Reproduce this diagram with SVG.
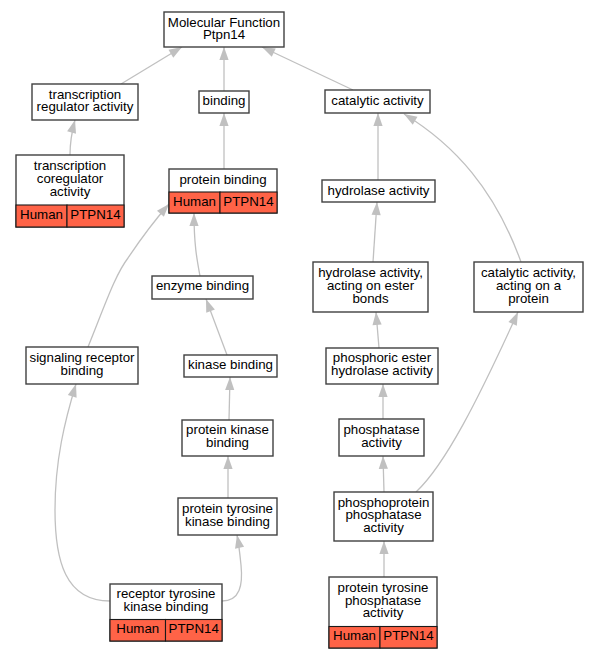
<svg xmlns="http://www.w3.org/2000/svg" width="597" height="659" viewBox="0 0 597 659">
<style>
.n{fill:#ffffff;stroke:#404040;stroke-width:1.4}
.c{fill:#ff6347;stroke:#1a1a1a;stroke-width:1.1}
text{font-family:"Liberation Sans",Arial,sans-serif;font-size:13.3px;fill:#000;text-anchor:middle}
.e{fill:none;stroke:#c0c0c0;stroke-width:1.3;marker-end:url(#ah)}
</style>
<defs>
<marker id="ah" markerUnits="userSpaceOnUse" markerWidth="14" markerHeight="10" refX="13" refY="4.6" orient="auto" overflow="visible">
<path d="M0,0 L13,4.6 L0,9.2 z" fill="#c0c0c0"/>
</marker>
</defs>
<rect width="597" height="659" fill="#ffffff"/>
<g id="edges">
<path class="e" d="M121,84 L182,47"/>
<path class="e" d="M224,91 L224,47"/>
<path class="e" d="M353,90 L262,47"/>
<path class="e" d="M70,155 C70,140 72,131 75,120"/>
<path class="e" d="M224,169 L224,113"/>
<path class="e" d="M378,180 L378,113"/>
<path class="e" d="M521,262 C495,190 455,145 404,114"/>
<path class="e" d="M373,262 L377,202"/>
<path class="e" d="M200,276 C197,260 194,245 194,213"/>
<path class="e" d="M88,347 C105,305 115,275 128,258 C140,240 155,220 169,204"/>
<path class="e" d="M227,355 L206,299"/>
<path class="e" d="M229,420 L230,377"/>
<path class="e" d="M228,498 L228,456"/>
<path class="e" d="M110,601 C65,601 55,560 55,510 C55,460 65,420 76,384"/>
<path class="e" d="M222,601 C240,601 243,585 241,565 C240,555 239,545 237,535"/>
<path class="e" d="M379,348 L376,312"/>
<path class="e" d="M383,419 L383,384"/>
<path class="e" d="M384,492 L383,456"/>
<path class="e" d="M416,492 C445,465 478,400 518,312"/>
<path class="e" d="M384,577 L384,541"/>
</g>
<g id="mf"><rect class="n" x="164" y="12" width="120" height="35"/><text x="224" y="26.5">Molecular Function</text><text x="224" y="39">Ptpn14</text></g>
<g id="tra"><rect class="n" x="32" y="84" width="106" height="36"/><text x="85" y="98.5">transcription</text><text x="85" y="111">regulator activity</text></g>
<g id="binding"><rect class="n" x="199" y="91" width="50" height="22"/><text x="224" y="105">binding</text></g>
<g id="catalytic"><rect class="n" x="325" y="90" width="105" height="23"/><text x="377.5" y="105">catalytic activity</text></g>
<g id="tca"><rect class="n" x="16" y="155" width="108" height="72"/><rect class="c" x="16" y="205" width="51" height="22"/><rect class="c" x="67" y="205" width="57" height="22"/><text x="70" y="170">transcription</text><text x="70" y="183">coregulator</text><text x="70" y="196">activity</text><text x="41.5" y="219">Human</text><text x="95.5" y="219">PTPN14</text></g>
<g id="pb"><rect class="n" x="169" y="169" width="108" height="44"/><rect class="c" x="169" y="192" width="51" height="21"/><rect class="c" x="220" y="192" width="57" height="21"/><text x="223" y="184">protein binding</text><text x="194.5" y="206">Human</text><text x="248.5" y="206">PTPN14</text></g>
<g id="hyd"><rect class="n" x="322" y="180" width="113" height="22"/><text x="378.5" y="194.5">hydrolase activity</text></g>
<g id="hydester"><rect class="n" x="313" y="262" width="115" height="50"/><text x="370.5" y="277">hydrolase activity,</text><text x="370.5" y="289.8">acting on ester</text><text x="370.5" y="302.6">bonds</text></g>
<g id="cap"><rect class="n" x="474" y="262" width="109" height="50"/><text x="528.5" y="277">catalytic activity,</text><text x="528.5" y="289.8">acting on a</text><text x="528.5" y="302.6">protein</text></g>
<g id="enz"><rect class="n" x="152" y="276" width="101" height="23"/><text x="202.5" y="290.3">enzyme binding</text></g>
<g id="sig"><rect class="n" x="26" y="347" width="112" height="37"/><text x="82" y="361.9">signaling receptor</text><text x="82" y="374.7">binding</text></g>
<g id="kin"><rect class="n" x="184" y="355" width="93" height="22"/><text x="230.5" y="368.8">kinase binding</text></g>
<g id="pkb"><rect class="n" x="182" y="420" width="91" height="36"/><text x="227.5" y="434.4">protein kinase</text><text x="227.5" y="447.2">binding</text></g>
<g id="ptkb"><rect class="n" x="178" y="498" width="99" height="37"/><text x="227.5" y="512.9">protein tyrosine</text><text x="227.5" y="525.7">kinase binding</text></g>
<g id="rtkb"><rect class="n" x="110" y="584" width="112" height="57"/><rect class="c" x="110" y="619.5" width="55.5" height="21.5"/><rect class="c" x="165.5" y="619.5" width="56.5" height="21.5"/><text x="166" y="598.1">receptor tyrosine</text><text x="166" y="610.9">kinase binding</text><text x="137.75" y="633">Human</text><text x="193.75" y="633">PTPN14</text></g>
<g id="pehyd"><rect class="n" x="326" y="348" width="112" height="36"/><text x="382" y="362.4">phosphoric ester</text><text x="382" y="375.2">hydrolase activity</text></g>
<g id="phos"><rect class="n" x="339" y="419" width="85" height="37"/><text x="381.5" y="433.9">phosphatase</text><text x="381.5" y="446.7">activity</text></g>
<g id="ppp"><rect class="n" x="334" y="492" width="99" height="49"/><text x="383.5" y="506.5">phosphoprotein</text><text x="383.5" y="519.3">phosphatase</text><text x="383.5" y="532.1">activity</text></g>
<g id="ptpa"><rect class="n" x="329" y="577" width="108" height="71"/><rect class="c" x="329" y="626.5" width="51" height="21.5"/><rect class="c" x="380" y="626.5" width="57" height="21.5"/><text x="383" y="591.8">protein tyrosine</text><text x="383" y="604.6">phosphatase</text><text x="383" y="617.4">activity</text><text x="354.5" y="640">Human</text><text x="408.5" y="640">PTPN14</text></g>
</svg>
